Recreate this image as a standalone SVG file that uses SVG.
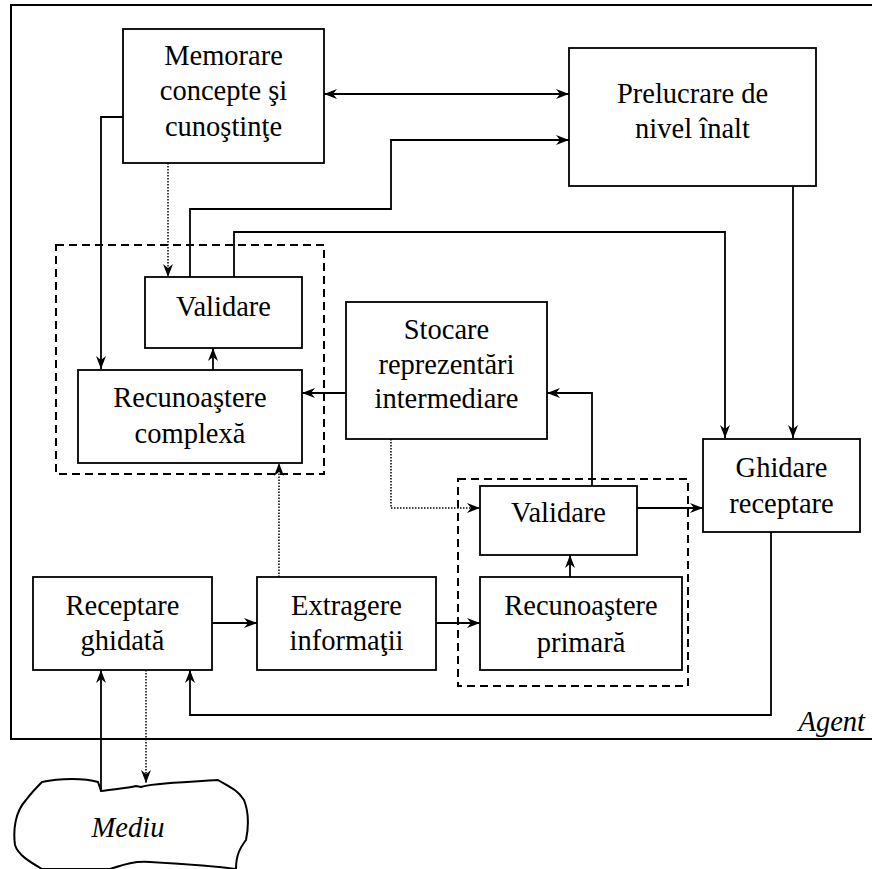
<svg xmlns="http://www.w3.org/2000/svg" width="872" height="869" viewBox="0 0 872 869">
<style>
.box{fill:#fff;stroke:#000;stroke-width:1.8}
.grp{fill:none;stroke:#000;stroke-width:2;stroke-dasharray:8,5}
.c{fill:none;stroke:#000;stroke-width:1.8}
.d{fill:none;stroke:#000;stroke-width:1.5;stroke-dasharray:1.5,1.5}
text{font-family:'Liberation Serif',serif;font-size:28.5px;fill:#000}
.t{text-anchor:middle}
.i{font-style:italic}
</style>
<defs>
<marker id="a" viewBox="0 0 13 10" refX="13" refY="5" markerWidth="13" markerHeight="10" markerUnits="userSpaceOnUse" orient="auto-start-reverse">
<path d="M0,0 L13,5 L0,10 L4,5 z" fill="#000"/>
</marker>
</defs>
<rect width="872" height="869" fill="#fff"/>
<g id="agent">
<path d="M872,5 H11 V739 H872" fill="none" stroke="#000" stroke-width="2"/>
<text class="i" x="865" y="731" text-anchor="end">Agent</text>
</g>
<g id="grupuri">
<rect class="grp" x="56" y="245" width="268" height="229"/>
<rect class="grp" x="458" y="479" width="230" height="207"/>
</g>
<g id="conectori">
<path class="c" d="M324,94 H569" marker-start="url(#a)" marker-end="url(#a)"/>
<path class="c" d="M190,277 V209 H391 V140 H569" marker-end="url(#a)"/>
<path class="c" d="M234,277 V232 H725 V438" marker-end="url(#a)"/>
<path class="c" d="M793,186 V438" marker-end="url(#a)"/>
<path class="c" d="M123,117 H101 V369" marker-end="url(#a)"/>
<path class="d" d="M168,163 V277" marker-end="url(#a)"/>
<path class="c" d="M213,370 V348" marker-end="url(#a)"/>
<path class="c" d="M346,393 H302" marker-end="url(#a)"/>
<path class="d" d="M391,439 V508 H480" marker-end="url(#a)"/>
<path class="c" d="M592,486 V393 H547" marker-end="url(#a)"/>
<path class="c" d="M637,508 H703" marker-end="url(#a)"/>
<path class="c" d="M771,532 V715 H190 V670" marker-end="url(#a)"/>
<path class="c" d="M570,577 V555" marker-end="url(#a)"/>
<path class="c" d="M212,623 H257" marker-end="url(#a)"/>
<path class="c" d="M436,623 H480" marker-end="url(#a)"/>
<path class="d" d="M279,577 V463" marker-end="url(#a)"/>
<path class="c" d="M101,790 V670" marker-end="url(#a)"/>
<path class="d" d="M146,670 V783" marker-end="url(#a)"/>
</g>
<g id="memorare">
<rect class="box" x="123" y="29" width="201" height="134"/>
<text class="t" x="223.5" y="65">Memorare</text>
<text class="t" x="223.5" y="100">concepte şi</text>
<text class="t" x="223.5" y="136">cunoştinţe</text>
</g>
<g id="prelucrare">
<rect class="box" x="569" y="48" width="247" height="138"/>
<text class="t" x="692.5" y="103">Prelucrare de</text>
<text class="t" x="692.5" y="138">nivel înalt</text>
</g>
<g id="validare1">
<rect class="box" x="145" y="277" width="157" height="71"/>
<text class="t" x="223.5" y="316">Validare</text>
</g>
<g id="recunoastere-complexa">
<rect class="box" x="78" y="370" width="224" height="93"/>
<text class="t" x="190" y="407">Recunoaştere</text>
<text class="t" x="190" y="443">complexă</text>
</g>
<g id="stocare">
<rect class="box" x="346" y="302" width="201" height="137"/>
<text class="t" x="446.5" y="339">Stocare</text>
<text class="t" x="446.5" y="374">reprezentări</text>
<text class="t" x="446.5" y="408">intermediare</text>
</g>
<g id="validare2">
<rect class="box" x="480" y="486" width="157" height="69"/>
<text class="t" x="558.5" y="522">Validare</text>
</g>
<g id="ghidare">
<rect class="box" x="703" y="439" width="157" height="93"/>
<text class="t" x="781.5" y="477">Ghidare</text>
<text class="t" x="781.5" y="513">receptare</text>
</g>
<g id="receptare">
<rect class="box" x="33" y="577" width="179" height="93"/>
<text class="t" x="122.5" y="615">Receptare</text>
<text class="t" x="122.5" y="650">ghidată</text>
</g>
<g id="extragere">
<rect class="box" x="257" y="577" width="179" height="93"/>
<text class="t" x="346.5" y="615">Extragere</text>
<text class="t" x="346.5" y="650">informaţii</text>
</g>
<g id="recunoastere-primara">
<rect class="box" x="480" y="577" width="202" height="93"/>
<text class="t" x="581" y="615">Recunoaştere</text>
<text class="t" x="581" y="652">primară</text>
</g>
<g id="mediu">
<path d="M42,782 C60,778 85,778 98,782 L101,791 C115,789 128,788 136,786 L141,787 C150,783 190,782 218,780 C228,786 238,790 244,800 C250,815 248,830 246,840 C240,848 236,855 236,869 C215,866 185,864 150,862 C135,861 125,864 110,869 L42,869 C30,862 18,855 15,845 C13,830 15,812 26,800 C32,792 38,786 42,782 Z" fill="#fff" stroke="#000" stroke-width="2"/>
<text class="i t" x="128" y="837">Mediu</text>
</g>
</svg>
